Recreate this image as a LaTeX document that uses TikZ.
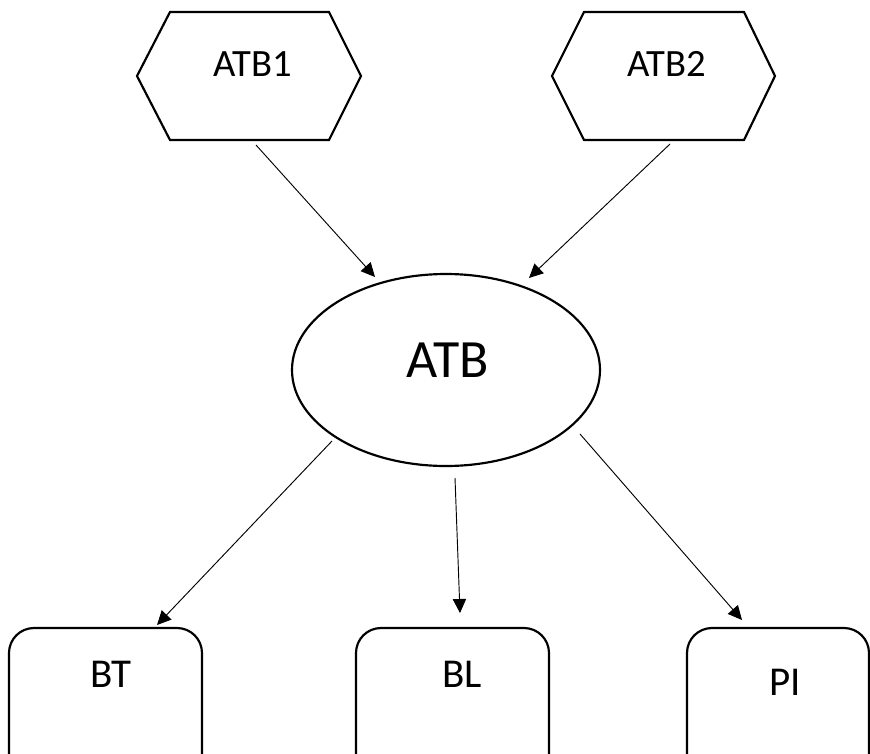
\documentclass[tikz,border=0pt]{standalone}
\usepackage{fontspec}
\setmainfont{Carlito}
\usetikzlibrary{arrows.meta}
\tikzset{
  shape line/.style={line width=0.065cm},
  link/.style={line width=0.028cm, -{Triangle[length=0.42cm,width=0.40cm]}},
  hex text/.style={inner sep=0pt, font=\fontsize{33}{33}\selectfont},
  main text/.style={inner sep=0pt, font=\fontsize{46}{46}\selectfont},
  box text/.style={inner sep=0pt, font=\fontsize{35}{35}\selectfont}
}
\begin{document}
\begin{tikzpicture}[x=0.03cm,y=-0.03cm]
            \useasboundingbox (0,0) rectangle (870,753);
            \clip (0,0) rectangle (870,753);
            
            % Drawing hexagon ATB1
            \draw [shape line] (137,76) -- (170,12) -- (329,12) -- (361,76) -- (329,140) -- (170,140) -- cycle;%
            \node [hex text] (atb1) at (253,64) {ATB1};%
            
            % Drawing hexagon ATB2
            \draw [shape line] (552,76) -- (584,12) -- (744,12) -- (775,76) -- (744,140) -- (584,140) -- cycle;%
            \node [hex text] (atb2) at (667,64) {ATB2};%
            
            % Drawing ellipse ATB
            \draw [shape line] (446,370) ellipse [x radius=154, y radius=96];%
            \node [main text] (atb) at (448,360) {ATB};%
            
            % Drawing rounded boxes BT, BL, PI
            \draw [shape line, rounded corners=0.75cm] (9,628) rectangle (202,820);%
            \node [box text] (bt) at (111,674) {BT};%
            \draw [shape line, rounded corners=0.75cm] (356,628) rectangle (549,820);%
            \node [box text] (bl) at (462,674) {BL};%
            \draw [shape line, rounded corners=0.75cm] (687,628) rectangle (869,820);%
            \node [box text] (pi) at (785,682) {PI};%
            
            % Arrow ends
            \coordinate (atb1 out) at (256,145);%
            \coordinate (atb2 out) at (670,144);%
            \coordinate (atb in1) at (375,277);%
            \coordinate (atb in2) at (529,278);%
            \coordinate (atb out1) at (332,441);%
            \coordinate (atb out2) at (455,478);%
            \coordinate (atb out3) at (580,434);%
            \coordinate (bt in) at (157,625);%
            \coordinate (bl in) at (460,613);%
            \coordinate (pi in) at (742,620);%
            
            % Drawing arrows
            \draw [link] (atb1 out) -- (atb in1);%
            \draw [link] (atb2 out) -- (atb in2);%
            \draw [link] (atb out1) -- (bt in);%
            \draw [link] (atb out2) -- (bl in);%
            \draw [link] (atb out3) -- (pi in);%
        \end{tikzpicture}
\end{document}
